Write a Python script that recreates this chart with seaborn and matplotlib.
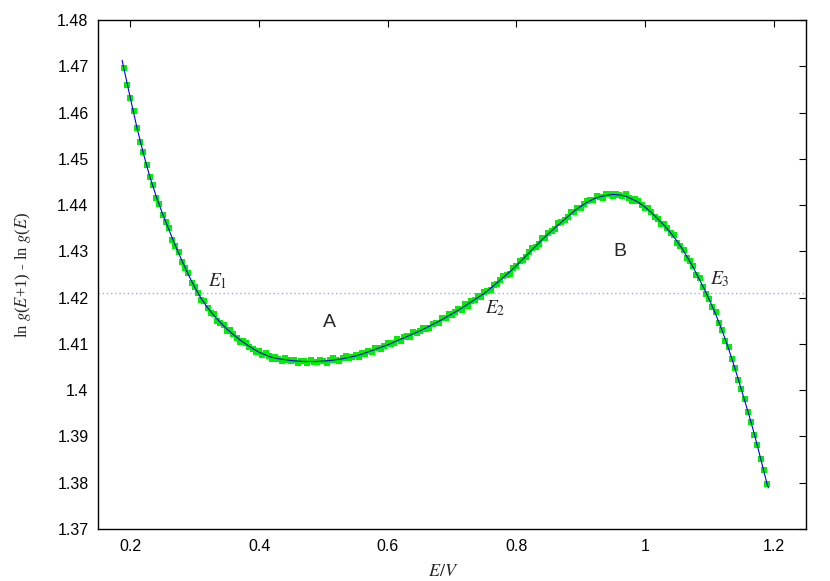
import numpy as np
import pandas as pd
import matplotlib
matplotlib.use("Agg")
import matplotlib.pyplot as plt
import seaborn as sns

# ---- data: fitted curve ----
fit_x = [0.187, 0.19, 0.20, 0.21, 0.22, 0.23, 0.24, 0.25, 0.26, 0.27, 0.28, 0.29,
         0.30, 0.31, 0.32, 0.33, 0.34, 0.35, 0.36, 0.37, 0.38, 0.39,
         0.40, 0.41, 0.42, 0.43, 0.44, 0.45, 0.46, 0.47, 0.48, 0.49,
         0.50, 0.51, 0.52, 0.53, 0.54, 0.55, 0.56, 0.57, 0.58, 0.59,
         0.60, 0.61, 0.62, 0.63, 0.64, 0.65, 0.66, 0.67, 0.68, 0.69,
         0.70, 0.71, 0.72, 0.73, 0.74, 0.75, 0.76, 0.77, 0.78, 0.79,
         0.80, 0.81, 0.82, 0.83, 0.84, 0.85, 0.86, 0.87, 0.88, 0.89,
         0.90, 0.91, 0.92, 0.93, 0.94, 0.95, 0.96, 0.97, 0.98, 0.99,
         1.00, 1.01, 1.02, 1.03, 1.04, 1.05, 1.06, 1.07, 1.08, 1.09,
         1.10, 1.11, 1.12, 1.13, 1.14, 1.15, 1.16, 1.17, 1.18, 1.19, 1.192]
fit_y = [1.4713, 1.4694, 1.4630, 1.4568, 1.4512, 1.4462, 1.4419, 1.4381, 1.4346, 1.4312, 1.4280, 1.4250,
         1.4222, 1.4198, 1.4178, 1.4161, 1.4146, 1.4132, 1.4120, 1.4109, 1.4099, 1.4090,
         1.4082, 1.4076, 1.4071, 1.4068, 1.4066, 1.4064, 1.4063, 1.4062, 1.4062, 1.4062,
         1.4063, 1.4064, 1.4066, 1.4068, 1.4071, 1.4074, 1.4078, 1.4083, 1.4088, 1.4093,
         1.4098, 1.4104, 1.4110, 1.4116, 1.4122, 1.4128, 1.4135, 1.4142, 1.4149, 1.4157,
         1.4165, 1.4173, 1.4182, 1.4191, 1.4200, 1.4209, 1.4220, 1.4232, 1.4244, 1.4256,
         1.4269, 1.4283, 1.4297, 1.4311, 1.4325, 1.4338, 1.4351, 1.4363, 1.4375, 1.4387,
         1.4397, 1.4406, 1.4413, 1.4418, 1.4421, 1.4423, 1.4422, 1.4419, 1.4413, 1.4406,
         1.4396, 1.4384, 1.4370, 1.4356, 1.4340, 1.4322, 1.4301, 1.4278, 1.4252, 1.4225,
         1.4196, 1.4164, 1.4129, 1.4090, 1.4047, 1.4001, 1.3955, 1.3906, 1.3852, 1.3797, 1.3789]

# ---- data: measured points, E/V from 0.19 to 1.19 in steps of 0.005 ----
data_x = np.round(np.arange(201) * 0.005 + 0.19, 3)
data_y = [
    1.4696, 1.4659, 1.4631, 1.4603, 1.4566, 1.4536, 1.4515, 1.4487, 1.4461, 1.4444,
    1.4416, 1.4402, 1.4379, 1.4364, 1.4350, 1.4325, 1.4312, 1.4299, 1.4278, 1.4264,
    1.4253, 1.4232, 1.4224, 1.4211, 1.4195, 1.4192, 1.4177, 1.4167, 1.4165, 1.4150,
    1.4146, 1.4141, 1.4128, 1.4129, 1.4121, 1.4112, 1.4105, 1.4106, 1.4103, 1.4093,
    1.4090, 1.4083, 1.4085, 1.4077, 1.4080, 1.4074, 1.4067, 1.4071, 1.4067, 1.4064,
    1.4070, 1.4065, 1.4062, 1.4066, 1.4059, 1.4063, 1.4064, 1.4059, 1.4066, 1.4061,
    1.4060, 1.4065, 1.4063, 1.4059, 1.4066, 1.4069, 1.4065, 1.4064, 1.4069, 1.4073,
    1.4069, 1.4072, 1.4077, 1.4072, 1.4080, 1.4079, 1.4084, 1.4082, 1.4092, 1.4092,
    1.4089, 1.4095, 1.4101, 1.4099, 1.4103, 1.4111, 1.4107, 1.4114, 1.4118, 1.4115,
    1.4125, 1.4124, 1.4128, 1.4135, 1.4133, 1.4134, 1.4144, 1.4146, 1.4146, 1.4156,
    1.4156, 1.4165, 1.4163, 1.4169, 1.4175, 1.4174, 1.4186, 1.4182, 1.4192, 1.4194,
    1.4203, 1.4202, 1.4213, 1.4214, 1.4216, 1.4228, 1.4229, 1.4239, 1.4247, 1.4249,
    1.4252, 1.4264, 1.4269, 1.4280, 1.4281, 1.4287, 1.4298, 1.4308, 1.4310, 1.4316,
    1.4328, 1.4328, 1.4340, 1.4345, 1.4348, 1.4361, 1.4364, 1.4367, 1.4374, 1.4385,
    1.4384, 1.4394, 1.4393, 1.4403, 1.4409, 1.4410, 1.4411, 1.4420, 1.4417, 1.4416,
    1.4423, 1.4425, 1.4420, 1.4424, 1.4422, 1.4419, 1.4423, 1.4415, 1.4409, 1.4413,
    1.4408, 1.4400, 1.4393, 1.4394, 1.4384, 1.4375, 1.4371, 1.4359, 1.4359, 1.4350,
    1.4339, 1.4335, 1.4319, 1.4312, 1.4303, 1.4286, 1.4279, 1.4268, 1.4250, 1.4243,
    1.4224, 1.4208, 1.4198, 1.4180, 1.4168, 1.4145, 1.4130, 1.4106, 1.4093, 1.4068,
    1.4049, 1.4021, 1.4002, 1.3982, 1.3953, 1.3931, 1.3903, 1.3881, 1.3851, 1.3828,
    1.3798]

level_y = 1.4211
annotations = [(r"$E_1$", 0.320, 1.4225), (r"$E_2$", 0.751, 1.4167), (r"$E_3$", 1.1015, 1.4229)]
regions = [("A", 0.510, 1.4147), ("B", 0.961, 1.4299)]
x_ticks = [0.2, 0.4, 0.6, 0.8, 1.0, 1.2]
y_ticks = [1.37, 1.38, 1.39, 1.40, 1.41, 1.42, 1.43, 1.44, 1.45, 1.46, 1.47, 1.48]

pts = pd.DataFrame({"x": data_x, "y": data_y})
fit = pd.DataFrame({"x": fit_x, "y": fit_y})

sns.set_theme(style="white")
plt.rcParams["font.family"] = ["Liberation Sans", "DejaVu Sans"]
plt.rcParams["mathtext.fontset"] = "stix"

fig = plt.figure(figsize=(8.3, 5.81), dpi=100)
ax = fig.add_axes([98.3 / 830, 1 - 529 / 581, (805.7 - 98.3) / 830, (529 - 20) / 581])

ax.axhline(level_y, color="#a4a4ff", lw=1.0, ls=(0, (1, 2)), zorder=1)
sns.scatterplot(data=pts, x="x", y="y", marker="s", s=18, color="#00f000",
                linewidth=0, ax=ax, zorder=2)
sns.lineplot(data=fit, x="x", y="y", color="#0000ee", lw=0.8, ax=ax, zorder=3,
             sort=False, estimator=None)

for txt, xx, yy in annotations:
    ax.text(xx, yy, txt, fontsize=14, ha="left", va="baseline")
for txt, xx, yy in regions:
    ax.text(xx, yy, txt, fontsize=14, ha="center", va="center")

ax.set_xlim(0.15, 1.25)
ax.set_ylim(1.37, 1.48)
ax.set_xticks(x_ticks)
ax.set_yticks(y_ticks)
ax.set_xticklabels(["%g" % v for v in x_ticks])
ax.set_yticklabels(["%g" % v for v in y_ticks])
ax.tick_params(direction="in", length=5, width=0.8, color="black",
               top=True, right=True, labelsize=11.5, pad=7, labelcolor="black")
for sp in ax.spines.values():
    sp.set_color("black")
    sp.set_linewidth(1.0)

ax.set_xlabel("")
ax.set_ylabel("")
fig.text(443 / 830, 1 - 571 / 581, r"$E/V$", fontsize=13, ha="center", va="center")
fig.text(23 / 830, 1 - 275 / 581, r"ln $g$($E$+1) - ln $g$($E$)", fontsize=12,
         rotation=90, ha="center", va="center", family=["Liberation Serif", "DejaVu Serif"])

fig.savefig("out.png", dpi=100)
